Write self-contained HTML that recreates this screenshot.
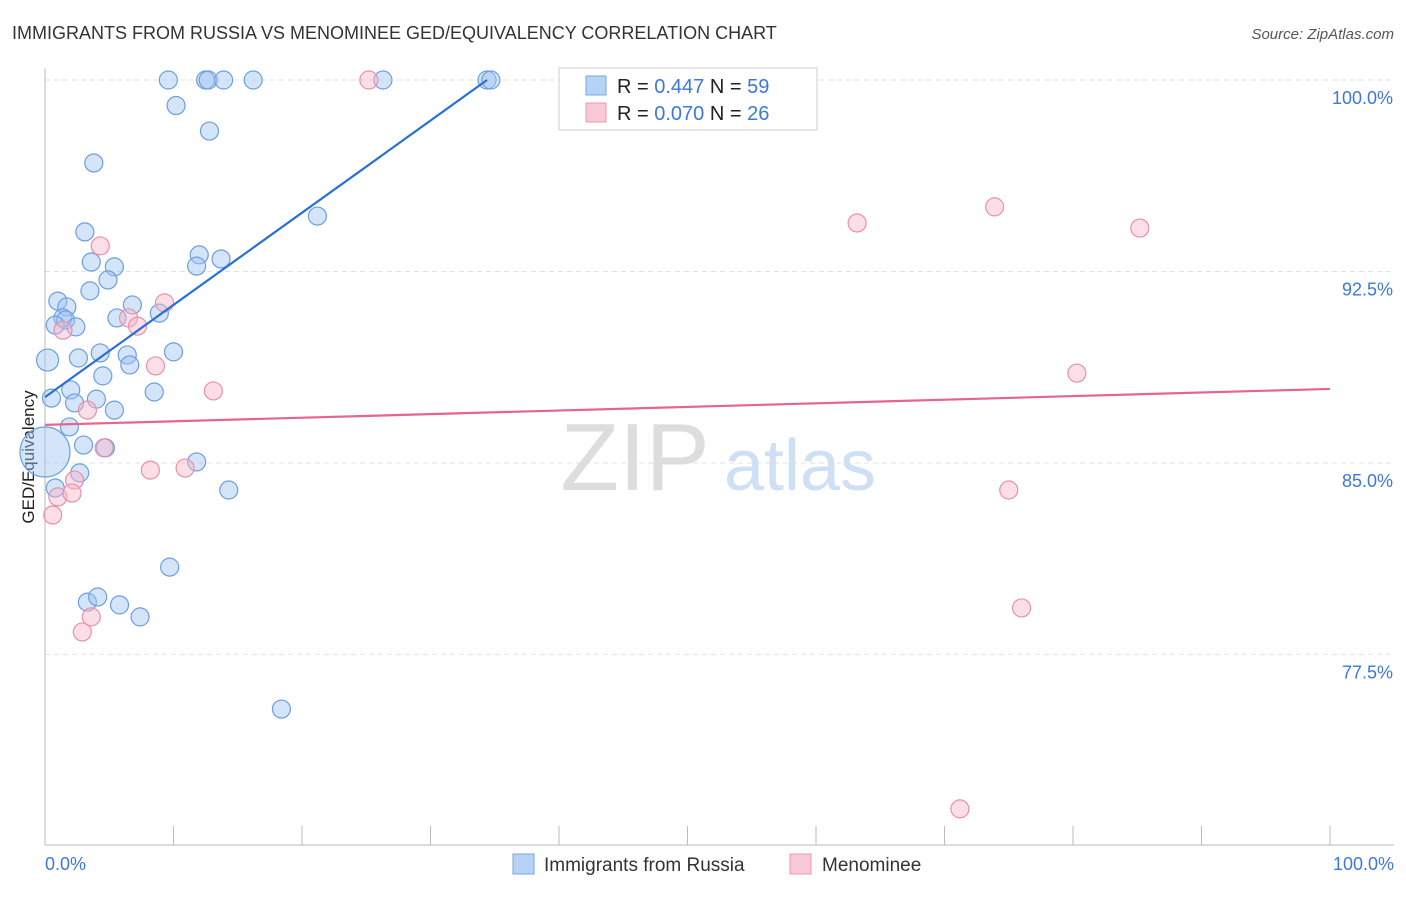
<!DOCTYPE html>
<html><head><meta charset="utf-8">
<style>
body{margin:0;background:#fff;font-family:"Liberation Sans",sans-serif;}
svg text{font-family:"Liberation Sans",sans-serif;}
</style></head>
<body>
<svg id="chart" width="1406" height="892" xmlns="http://www.w3.org/2000/svg">
<text x="12" y="39" font-size="18" fill="#333">IMMIGRANTS FROM RUSSIA VS MENOMINEE GED/EQUIVALENCY CORRELATION CHART</text>
<text x="1394" y="39" font-size="15" fill="#555" font-style="italic" text-anchor="end">Source: ZipAtlas.com</text>
<g id="grid"></g>
<g>
<text x="635" y="490" font-size="96" fill="#ddd" font-family="Liberation Serif" text-anchor="middle">ZIP</text>
<text x="800" y="490" font-size="72" fill="#cfe0f5" text-anchor="middle">atlas</text>
</g>
<line x1="45" y1="68" x2="45" y2="845" stroke="#bbb"/>
<line x1="45" y1="845" x2="1394" y2="845" stroke="#bbb"/>
<g id="ticks"></g>
<text transform="translate(34,457) rotate(-90)" font-size="17" fill="#222" text-anchor="middle">GED/Equivalency</text>
<text x="45" y="870" font-size="18" fill="#3c78d8">0.0%</text>
<text x="1394" y="870" font-size="18" fill="#3c78d8" text-anchor="end">100.0%</text>
<g id="pts"></g>
<g id="lines"></g>
<g>
<rect x="559" y="68" width="258" height="62" fill="#fff" stroke="#ccc"/>
<rect x="586" y="76" width="20" height="19" fill="#b7d2f7" stroke="#7aa6e0"/>
<rect x="586" y="103" width="20" height="19" fill="#fbc8d6" stroke="#e89ab0"/>
<text x="617" y="93" font-size="20" fill="#222">R = <tspan fill="#3c78d8">0.447</tspan>   N = <tspan fill="#3c78d8">59</tspan></text>
<text x="617" y="120" font-size="20" fill="#222">R = <tspan fill="#3c78d8">0.070</tspan>   N = <tspan fill="#3c78d8">26</tspan></text>
</g>
<g>
<rect x="513" y="854" width="21" height="20" fill="#b7d2f7" stroke="#7aa6e0"/>
<text x="544" y="871" font-size="19" fill="#333">Immigrants from Russia</text>
<rect x="790" y="854" width="21" height="20" fill="#fbc8d6" stroke="#e89ab0"/>
<text x="822" y="871" font-size="19" fill="#333">Menominee</text>
</g>
</svg>
<script>
const yTicks=[100,92.5,85,77.5];
const yTickLabels=["100.0%","92.5%","85.0%","77.5%"];
const xTicks=[0,10,20,30,40,50,60,70,80,90,100];
const blueX=[9.6,12.5,12.7,13.9,16.2,26.3,34.4,34.7,10.2,12.8,3.8,21.2,3.1,12.0,3.6,5.4,11.8,13.7,4.9,3.5,1.0,1.7,6.8,8.9,5.6,1.4,1.6,0.8,2.4,0.2,2.6,4.3,6.4,10.0,6.6,4.5,8.5,2.0,0.5,4.0,2.3,5.4,1.9,3.0,0,4.7,11.8,2.7,0.8,14.3,9.7,3.3,4.1,5.8,7.4,18.4];
const blueY=[100,100,100,100,100,100,100,100,99.0,98.0,96.75,94.67,94.05,93.15,92.87,92.68,92.71,92.99,92.17,91.74,91.34,91.11,91.19,90.87,90.68,90.68,90.6,90.4,90.33,89.03,89.11,89.31,89.23,89.35,88.84,88.41,87.78,87.86,87.54,87.5,87.35,87.07,86.41,85.7,85.43,85.59,85.04,84.61,84.02,83.94,80.92,79.55,79.75,79.44,78.97,75.36];
const blueR=[9,9,9,9,9,9,9,9,9,9,9,9,9,9,9,9,9,9,9,9,9,9,9,9,9,9,9,9,9,11,9,9,9,9,9,9,9,9,9,9,9,9,9,9,25,9,9,9,9,9,9,9,9,9,9,9];
const pinkX=[25.2,4.3,9.3,6.5,7.2,1.4,8.6,13.1,3.3,4.6,8.2,10.9,2.3,1.0,2.1,0.6,3.6,2.9,63.2,73.9,85.2,80.3,75.0,76.0,71.2];
const pinkY=[100,93.5,91.27,90.68,90.36,90.2,88.8,87.82,87.07,85.59,84.72,84.8,84.33,83.67,83.82,82.96,78.97,78.38,94.4,95.03,94.2,88.52,83.94,79.32,71.45];
const blueLine=[[0,87.58],[34.4,100]];
const pinkLine=[[0,86.49],[100,87.9]];
const NS="http://www.w3.org/2000/svg";
const sx=v=>45+v*12.85;
const sy=v=>80+(100-v)*25.53;
function mk(t,a,p){const e=document.createElementNS(NS,t);for(const k in a)e.setAttribute(k,a[k]);document.getElementById(p).appendChild(e);return e;}
yTicks.forEach((v,i)=>{
 const l=mk('line',{x1:45,x2:1394,y1:sy(v),y2:sy(v),stroke:'#e2e2e2','stroke-dasharray':'5,4'},'grid');
 
 
 const t=mk('text',{x:1393,y:sy(v)+24,'font-size':18,fill:'#3c78d8','text-anchor':'end'},'grid');
 t.textContent=yTickLabels[i];
 
 
});
xTicks.forEach(v=>{
 const l=mk('line',{x1:sx(v),x2:sx(v),y1:826,y2:845,stroke:'#bbb'},'ticks');
 
 
});
blueX.forEach((x,i)=>{
 const c=mk('circle',{cx:sx(x),cy:sy(blueY[i]),r:blueR[i],fill:'rgba(160,196,242,0.45)',stroke:'#6a9fe0','stroke-width':1.2},'pts');
 
 
});
pinkX.forEach((x,i)=>{
 const c=mk('circle',{cx:sx(x),cy:sy(pinkY[i]),r:9,fill:'rgba(248,182,200,0.45)',stroke:'#e890aa','stroke-width':1.2},'pts');
 
 
});
const bl=mk('line',{x1:sx(blueLine[0][0]),y1:sy(blueLine[0][1]),x2:sx(blueLine[1][0]),y2:sy(blueLine[1][1]),stroke:'#2a6fd6','stroke-width':2.2},'lines');


const pl=mk('line',{x1:sx(pinkLine[0][0]),y1:sy(pinkLine[0][1]),x2:sx(pinkLine[1][0]),y2:sy(pinkLine[1][1]),stroke:'#e5658f','stroke-width':2.2},'lines');


</script>
</body></html>
